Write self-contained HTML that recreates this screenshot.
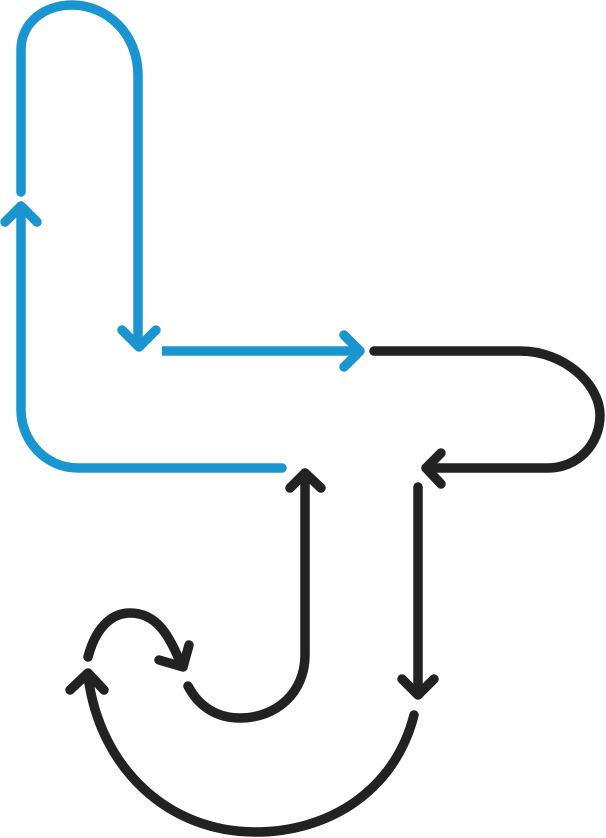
<!DOCTYPE html>
<html><head><meta charset="utf-8"><style>html,body{margin:0;padding:0;background:#fff}svg{display:block}</style></head>
<body>
<svg width="606" height="838" viewBox="0 0 606 838" xmlns="http://www.w3.org/2000/svg" fill="none" stroke-width="9.5" stroke-linecap="round" stroke-linejoin="round">
<g stroke="#1b95d0">
<path d="M21,192 V50 C21,22 45,5 72,5 C108,5 138,35 138,75 V345"/>
<path d="M122,330 L139,347 L156,330"/>
<path d="M282,468 H78 C45,468 21,440 21,410 V206"/>
<path d="M5,222 L21,206 L37,222"/>
<path d="M162,351 H359" stroke-linecap="butt"/>
<path d="M344,335 L360,351 L344,367"/>
</g>
<g stroke="#222">
<path d="M374,351 H520 C565,351 600,385 600,415 C600,445 577,468 548,468 H426"/>
<path d="M441,453 L426,468 L441,484"/>
<path d="M305,473 V655 C305,693 276,718 240,718 C215,718 198,705 188,686"/>
<path d="M290,488 L305,473 L321,488"/>
<path d="M418,487 V694"/>
<path d="M402,679 L418,695 L434,679"/>
<path d="M414,715 C395,790 330,832 255,832 C170,832 100,770 88,676"/>
<path d="M70,690 L88,673 L104,690"/>
<path d="M88,657 C95,630 110,613 130,613 C155,613 168,632 181,664"/>
<path d="M159,660 L183,667 L189,645"/>
</g>
</svg>
</body></html>
